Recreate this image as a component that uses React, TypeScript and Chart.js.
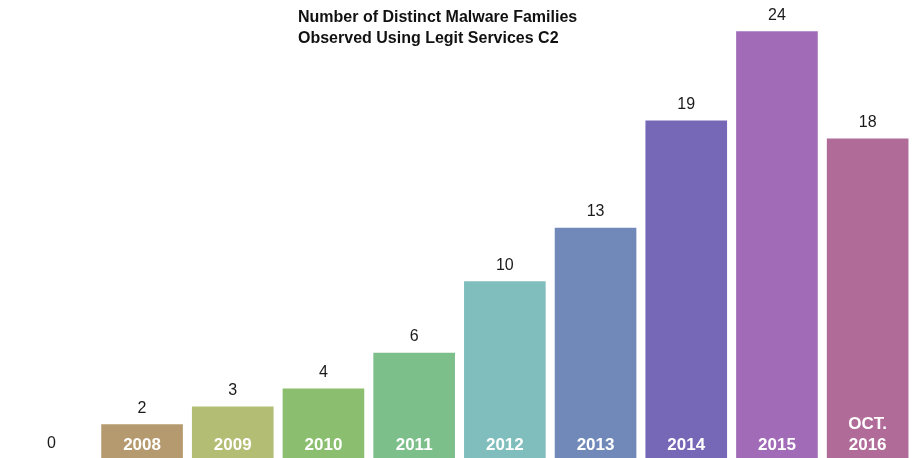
import React, { useEffect, useRef } from "react";
import { Chart, registerables } from "chart.js";

Chart.register(...registerables);

const categories = ["2007", "2008", "2009", "2010", "2011", "2012", "2013", "2014", "2015", "OCT.\n2016"];
const values = [0, 2, 3, 4, 6, 10, 13, 19, 24, 18];
const barColors = [
  "#c8c8c8",
  "#b69a6f",
  "#b3bd73",
  "#8bbe6e",
  "#7dbf8b",
  "#7fbebd",
  "#7089b8",
  "#7668b6",
  "#a16bb8",
  "#b06b98",
];
const titleLines = ["Number of Distinct Malware Families", "Observed Using Legit Services C2"];

const labelPlugin = {
  id: "labels",
  afterDatasetsDraw(chart: any) {
    const ctx = chart.ctx;
    const meta = chart.getDatasetMeta(0);
    ctx.save();
    meta.data.forEach((bar: any, i: number) => {
      const v = values[i];
      ctx.fillStyle = "#1a1a1a";
      ctx.font = "16px 'Liberation Sans', Arial, sans-serif";
      ctx.textAlign = "center";
      ctx.textBaseline = "middle";
      ctx.fillText(String(v), bar.x, bar.y - 16);
      if (v > 0) {
        ctx.fillStyle = "#ffffff";
        ctx.font = "bold 17px 'Liberation Sans', Arial, sans-serif";
        const lines = categories[i].split("\n");
        const base = bar.base;
        lines.forEach((ln: string, k: number) => {
          ctx.fillText(ln, bar.x, base - 15 - (lines.length - 1 - k) * 21);
        });
      }
    });
    ctx.fillStyle = "#111111";
    ctx.font = "bold 16px 'Liberation Sans', Arial, sans-serif";
    ctx.textAlign = "left";
    ctx.textBaseline = "middle";
    titleLines.forEach((t, k) => ctx.fillText(t, 292, 18 + k * 21));
    ctx.restore();
  },
};

export default function App() {
  const ref = useRef<HTMLCanvasElement>(null);
  useEffect(() => {
    document.body.style.margin = "0";
    document.body.style.overflow = "hidden";
    const chart = new Chart(ref.current!, {
      type: "bar",
      data: {
        labels: categories,
        datasets: [
          {
            data: values,
            backgroundColor: barColors,
            barPercentage: 0.9,
            categoryPercentage: 1,
          },
        ],
      },
      options: {
        animation: false,
        responsive: false,
        maintainAspectRatio: false,
        layout: { padding: 0 },
        plugins: {
          legend: { display: false },
          title: { display: false },
          tooltip: { enabled: false },
        },
        scales: {
          x: { display: false },
          y: { display: false, min: 0, max: 25.75 },
        },
      },
      plugins: [labelPlugin],
    });
    return () => chart.destroy();
  }, []);
  return (
    <div style={{ position: "fixed", left: 0, top: 0, width: 912, height: 458, overflow: "hidden", background: "#fff" }}>
      <canvas
        ref={ref}
        width={907}
        height={460}
        style={{ position: "absolute", left: 6, top: 0, width: 907, height: 460 }}
      />
    </div>
  );
}
